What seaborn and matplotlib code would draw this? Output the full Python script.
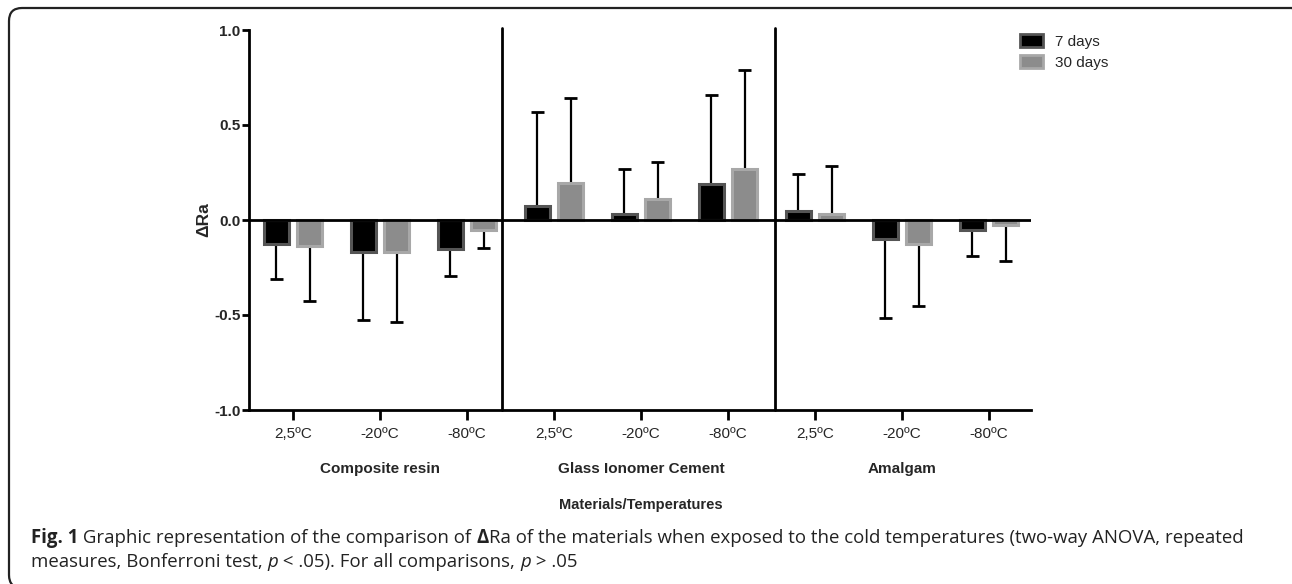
import numpy as np
import pandas as pd
import matplotlib
matplotlib.use("Agg")
import matplotlib.pyplot as plt
import seaborn as sns
from matplotlib.patches import FancyBboxPatch, Patch
from matplotlib.transforms import IdentityTransform

# ---------------- data ----------------
materials = ["Composite resin", "Glass Ionomer Cement", "Amalgam"]
temperatures = ["2,5ºC", "-20ºC", "-80ºC"]
series = ["7 days", "30 days"]
mean_7d = [-0.128, -0.166, -0.154, 0.074, 0.030, 0.190, 0.050, -0.100, -0.054]
sd_7d = [0.182, 0.362, 0.142, 0.496, 0.238, 0.466, 0.194, 0.417, 0.136]
mean_30d = [-0.137, -0.168, -0.054, 0.195, 0.110, 0.267, 0.030, -0.125, -0.028]
sd_30d = [0.289, 0.370, 0.093, 0.447, 0.194, 0.521, 0.256, 0.327, 0.188]

groups = [f"{m}|{t}" for m in materials for t in temperatures]
tick_labels = [t for m in materials for t in temperatures]
df = pd.DataFrame({
    "group": groups * 2,
    "series": [series[0]] * 9 + [series[1]] * 9,
    "value": mean_7d + mean_30d,
})

# ---------------- figure ----------------
sns.set_theme(style="white")
plt.rcParams["font.family"] = ["Liberation Sans", "DejaVu Sans"]

W, H = 1292, 584
fig = plt.figure(figsize=(W / 100, H / 100), dpi=100)
ax = fig.add_axes([249 / W, 1 - 410 / H, (1031 - 249) / W, 380 / H])

fills = {"7 days": "#000000", "30 days": "#8c8c8c"}
edges = {"7 days": "#555555", "30 days": "#a8a8a8"}

sns.barplot(data=df, x="group", y="value", hue="series", order=groups,
            hue_order=series, palette=fills, width=0.76, gap=0.27,
            errorbar=None, ax=ax, legend=False, zorder=3)

for cont, s in zip(ax.containers, series):
    for p in cont:
        p.set_edgecolor(edges[s])
        p.set_linewidth(2.2)

# one-sided error bars (away from zero)
off = 0.19
cap = 0.073
for means, sds, sign_off in [(mean_7d, sd_7d, -off), (mean_30d, sd_30d, off)]:
    for i, (m, s) in enumerate(zip(means, sds)):
        x = i + sign_off
        end = m + s if m >= 0 else m - s
        ax.vlines(x, 0, end, color="black", lw=1.6, zorder=2)
        ax.hlines(end, x - cap, x + cap, color="black", lw=2.0, zorder=2)

ax.set_xlim((249 - 293) / 87, (1031 - 293) / 87)
ax.set_ylim(-1, 1)
ax.axhline(0, color="black", lw=2, zorder=4)
for xd in [(502 - 293) / 87, (775 - 293) / 87]:
    ax.axvline(xd, ymin=0, ymax=1.005, color="black", lw=2, zorder=4, clip_on=False)

ax.set_xticks(range(9))
ax.set_xticklabels(tick_labels, fontsize=11)
ax.set_yticks([-1, -0.5, 0, 0.5, 1.0])
ax.set_yticklabels(["-1.0", "-0.5", "0.0", "0.5", "1.0"], fontsize=11, fontweight="bold")
ax.tick_params(axis="x", direction="out", length=7, width=2, color="black", pad=5, bottom=True)
ax.tick_params(axis="y", direction="out", length=5, width=2, color="black", pad=1, left=True)
ax.set_xlabel("")
ax.set_ylabel("ΔRa", fontsize=12.5, fontweight="bold", labelpad=2)
for sp in ["top", "right"]:
    ax.spines[sp].set_visible(False)
for sp in ["left", "bottom"]:
    ax.spines[sp].set_color("black")
    ax.spines[sp].set_linewidth(2)

# group labels
for j, m in enumerate(materials):
    xc = [380, 641, 902][j]
    fig.text(xc / W, 1 - 469 / H, m, ha="center", va="center", fontsize=11,
             fontweight="bold")
fig.text(641 / W, 1 - 505 / H, "Materials/Temperatures", ha="center", va="center",
         fontsize=10.5, fontweight="bold")

# legend
handles = [Patch(facecolor=fills[s], edgecolor=edges[s], linewidth=2, label=s) for s in series]
fig.legend(handles=handles, loc="upper left", bbox_to_anchor=(1006 / W, 1 - 20 / H),
           frameon=False, fontsize=11, handlelength=1.55, handleheight=0.95,
           handletextpad=0.75, labelspacing=0.42)

# frame around figure (pixel coordinates)
box = FancyBboxPatch((9, -4), 1286 + 10, H - 8 + 4,
                     boxstyle="round,pad=0,rounding_size=13", transform=IdentityTransform(),
                     facecolor="none", edgecolor="#222222", lw=1.6, clip_on=False)
fig.patches.append(box)

# caption
fig.canvas.draw()
renderer = fig.canvas.get_renderer()
cap_font = ["Open Sans", "DejaVu Sans"]
cap_color = "#222222"

line1 = [("Fig. 1", "bold", "normal"),
         (" Graphic representation of the comparison of ", "normal", "normal"),
         ("Δ", "bold", "normal"),
         ("Ra of the materials when exposed to the cold temperatures (two-way ANOVA, repeated", "normal", "normal")]
line2 = [("measures, Bonferroni test, ", "normal", "normal"),
         ("p", "normal", "italic"),
         (" < .05). For all comparisons, ", "normal", "normal"),
         ("p", "normal", "italic"),
         (" > .05", "normal", "normal")]

def measure(pieces, size):
    tot = 0
    for txt, weight, style in pieces:
        t = fig.text(0, 0, txt, fontsize=size, fontweight=weight, fontstyle=style,
                     family=cap_font)
        tot += t.get_window_extent(renderer=renderer).width
        t.remove()
    return tot

base = 12.0
cap_size = base * (1239 - 31) / measure(line1, base)

def place(pieces, x0, y):
    x = x0
    for txt, weight, style in pieces:
        t = fig.text(x / W, 1 - y / H, txt, ha="left", va="baseline", fontsize=cap_size,
                     fontweight=weight, fontstyle=style, color=cap_color, family=cap_font)
        x += t.get_window_extent(renderer=renderer).width

place(line1, 31, 543)
place(line2, 31, 567)

fig.savefig("out.png", dpi=100)
